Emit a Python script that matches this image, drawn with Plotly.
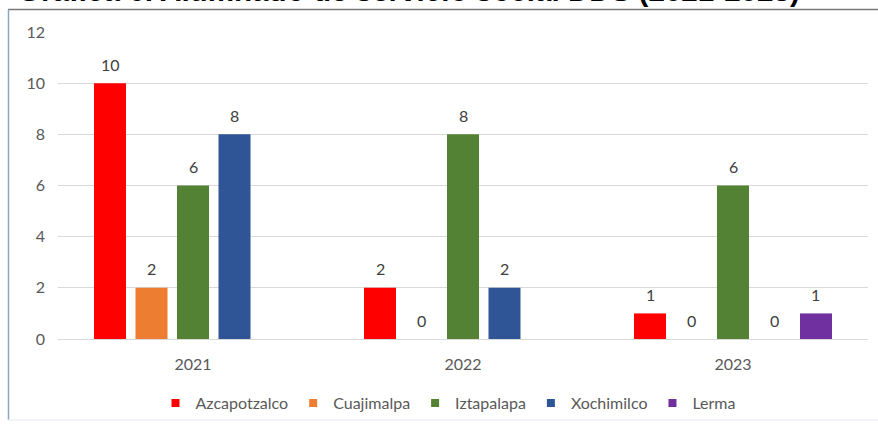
import plotly.graph_objects as go

years = ["2021", "2022", "2023"]
series_names = ["Azcapotzalco", "Cuajimalpa", "Iztapalapa", "Xochimilco", "Lerma"]
azcapotzalco = [10, 2, 1]
cuajimalpa = [2, 0, 0]
iztapalapa = [6, 8, 6]
xochimilco = [8, 2, 0]
lerma = [None, None, 1]
series_values = [azcapotzalco, cuajimalpa, iztapalapa, xochimilco, lerma]
colors = ["#FF0000", "#ED7D31", "#548235", "#2F5597", "#7030A0"]
y_ticks = [0, 2, 4, 6, 8, 10, 12]
title_text = "Gráfica 6. Alumnado de servicio social DDS (2021-2023)"

W, H = 878, 427
ML, MR, MT, MB = 58, 10, 32, 88
plot_w = W - ML - MR
plot_h = H - MT - MB
bargap = 0.2315
bargroupgap = 0.229
cat_px = plot_w / len(years)
slot_px = (1 - bargap) * cat_px / len(series_names)
FONT = "Lato"
FS = 16


def px_x(px):
    return (px - ML) / plot_w


def px_y(py):
    return (H - MB - py) / plot_h


fig = go.Figure()
for j, (name, vals, col) in enumerate(zip(series_names, series_values, colors)):
    fig.add_trace(go.Bar(x=years, y=vals, name=name, marker=dict(color=col, line=dict(width=0)),
                         showlegend=False, hoverinfo="skip"))
    for i, v in enumerate(vals):
        if v is None:
            continue
        fig.add_annotation(x=i, y=v, xref="x", yref="y", text=str(v), showarrow=False,
                           xshift=(j - (len(series_names) - 1) / 2) * slot_px, yshift=19,
                           yanchor="middle", font=dict(family=FONT, size=FS, color="#404040"))

# legend-only entries with small square markers
for name, col in zip(series_names, colors):
    fig.add_trace(go.Scatter(x=[years[0]], y=[None], mode="markers", name=name,
                             marker=dict(symbol="square", size=8, color=col), hoverinfo="skip"))

# title (cut at top like the reference)
fig.add_annotation(x=px_x(16), y=px_y(0), xref="paper", yref="paper", text="<b>" + title_text + "</b>",
                   showarrow=False, xanchor="left", yanchor="middle", yshift=9,
                   font=dict(family="Liberation Sans", size=29.6, color="#000000"))

# frame
fig.add_shape(type="line", xref="paper", yref="paper", x0=px_x(8), x1=px_x(880), y0=px_y(9.5), y1=px_y(9.5),
              line=dict(color="#7a7a7a", width=1.5))
fig.add_shape(type="line", xref="paper", yref="paper", x0=px_x(8.5), x1=px_x(8.5), y0=px_y(9.5), y1=px_y(420),
              line=dict(color="#8ea6c8", width=1.5))
fig.add_shape(type="line", xref="paper", yref="paper", x0=px_x(8), x1=px_x(880), y0=px_y(420), y1=px_y(420),
              line=dict(color="#e3e8ee", width=1))

fig.update_layout(
    width=W, height=H,
    margin=dict(l=ML, r=MR, t=MT, b=MB, autoexpand=False),
    barmode="group", bargap=bargap, bargroupgap=bargroupgap,
    plot_bgcolor="white", paper_bgcolor="white",
    font=dict(family=FONT, size=FS, color="#595959"),
    legend=dict(orientation="h", x=px_x(448), xanchor="center", y=px_y(403), yanchor="middle",
                font=dict(family=FONT, size=FS, color="#595959"), itemwidth=30,
                bgcolor="rgba(0,0,0,0)"),
    xaxis=dict(type="category", range=[-0.5, len(years) - 0.5], autorange=False,
               showgrid=False, showline=False, ticks="", ticklabelstandoff=14,
               tickfont=dict(family=FONT, size=FS, color="#595959")),
    yaxis=dict(range=[0, 12], autorange=False, tickvals=y_ticks, showgrid=True, gridcolor="#D9D9D9",
               gridwidth=1, zeroline=True, zerolinecolor="#D9D9D9", zerolinewidth=1, showline=False,
               ticks="", ticklabelstandoff=12,
               tickfont=dict(family=FONT, size=FS, color="#595959")),
)

fig.write_html("out.html", config={"displayModeBar": False},
               post_script="document.body.style.margin='0px';")
